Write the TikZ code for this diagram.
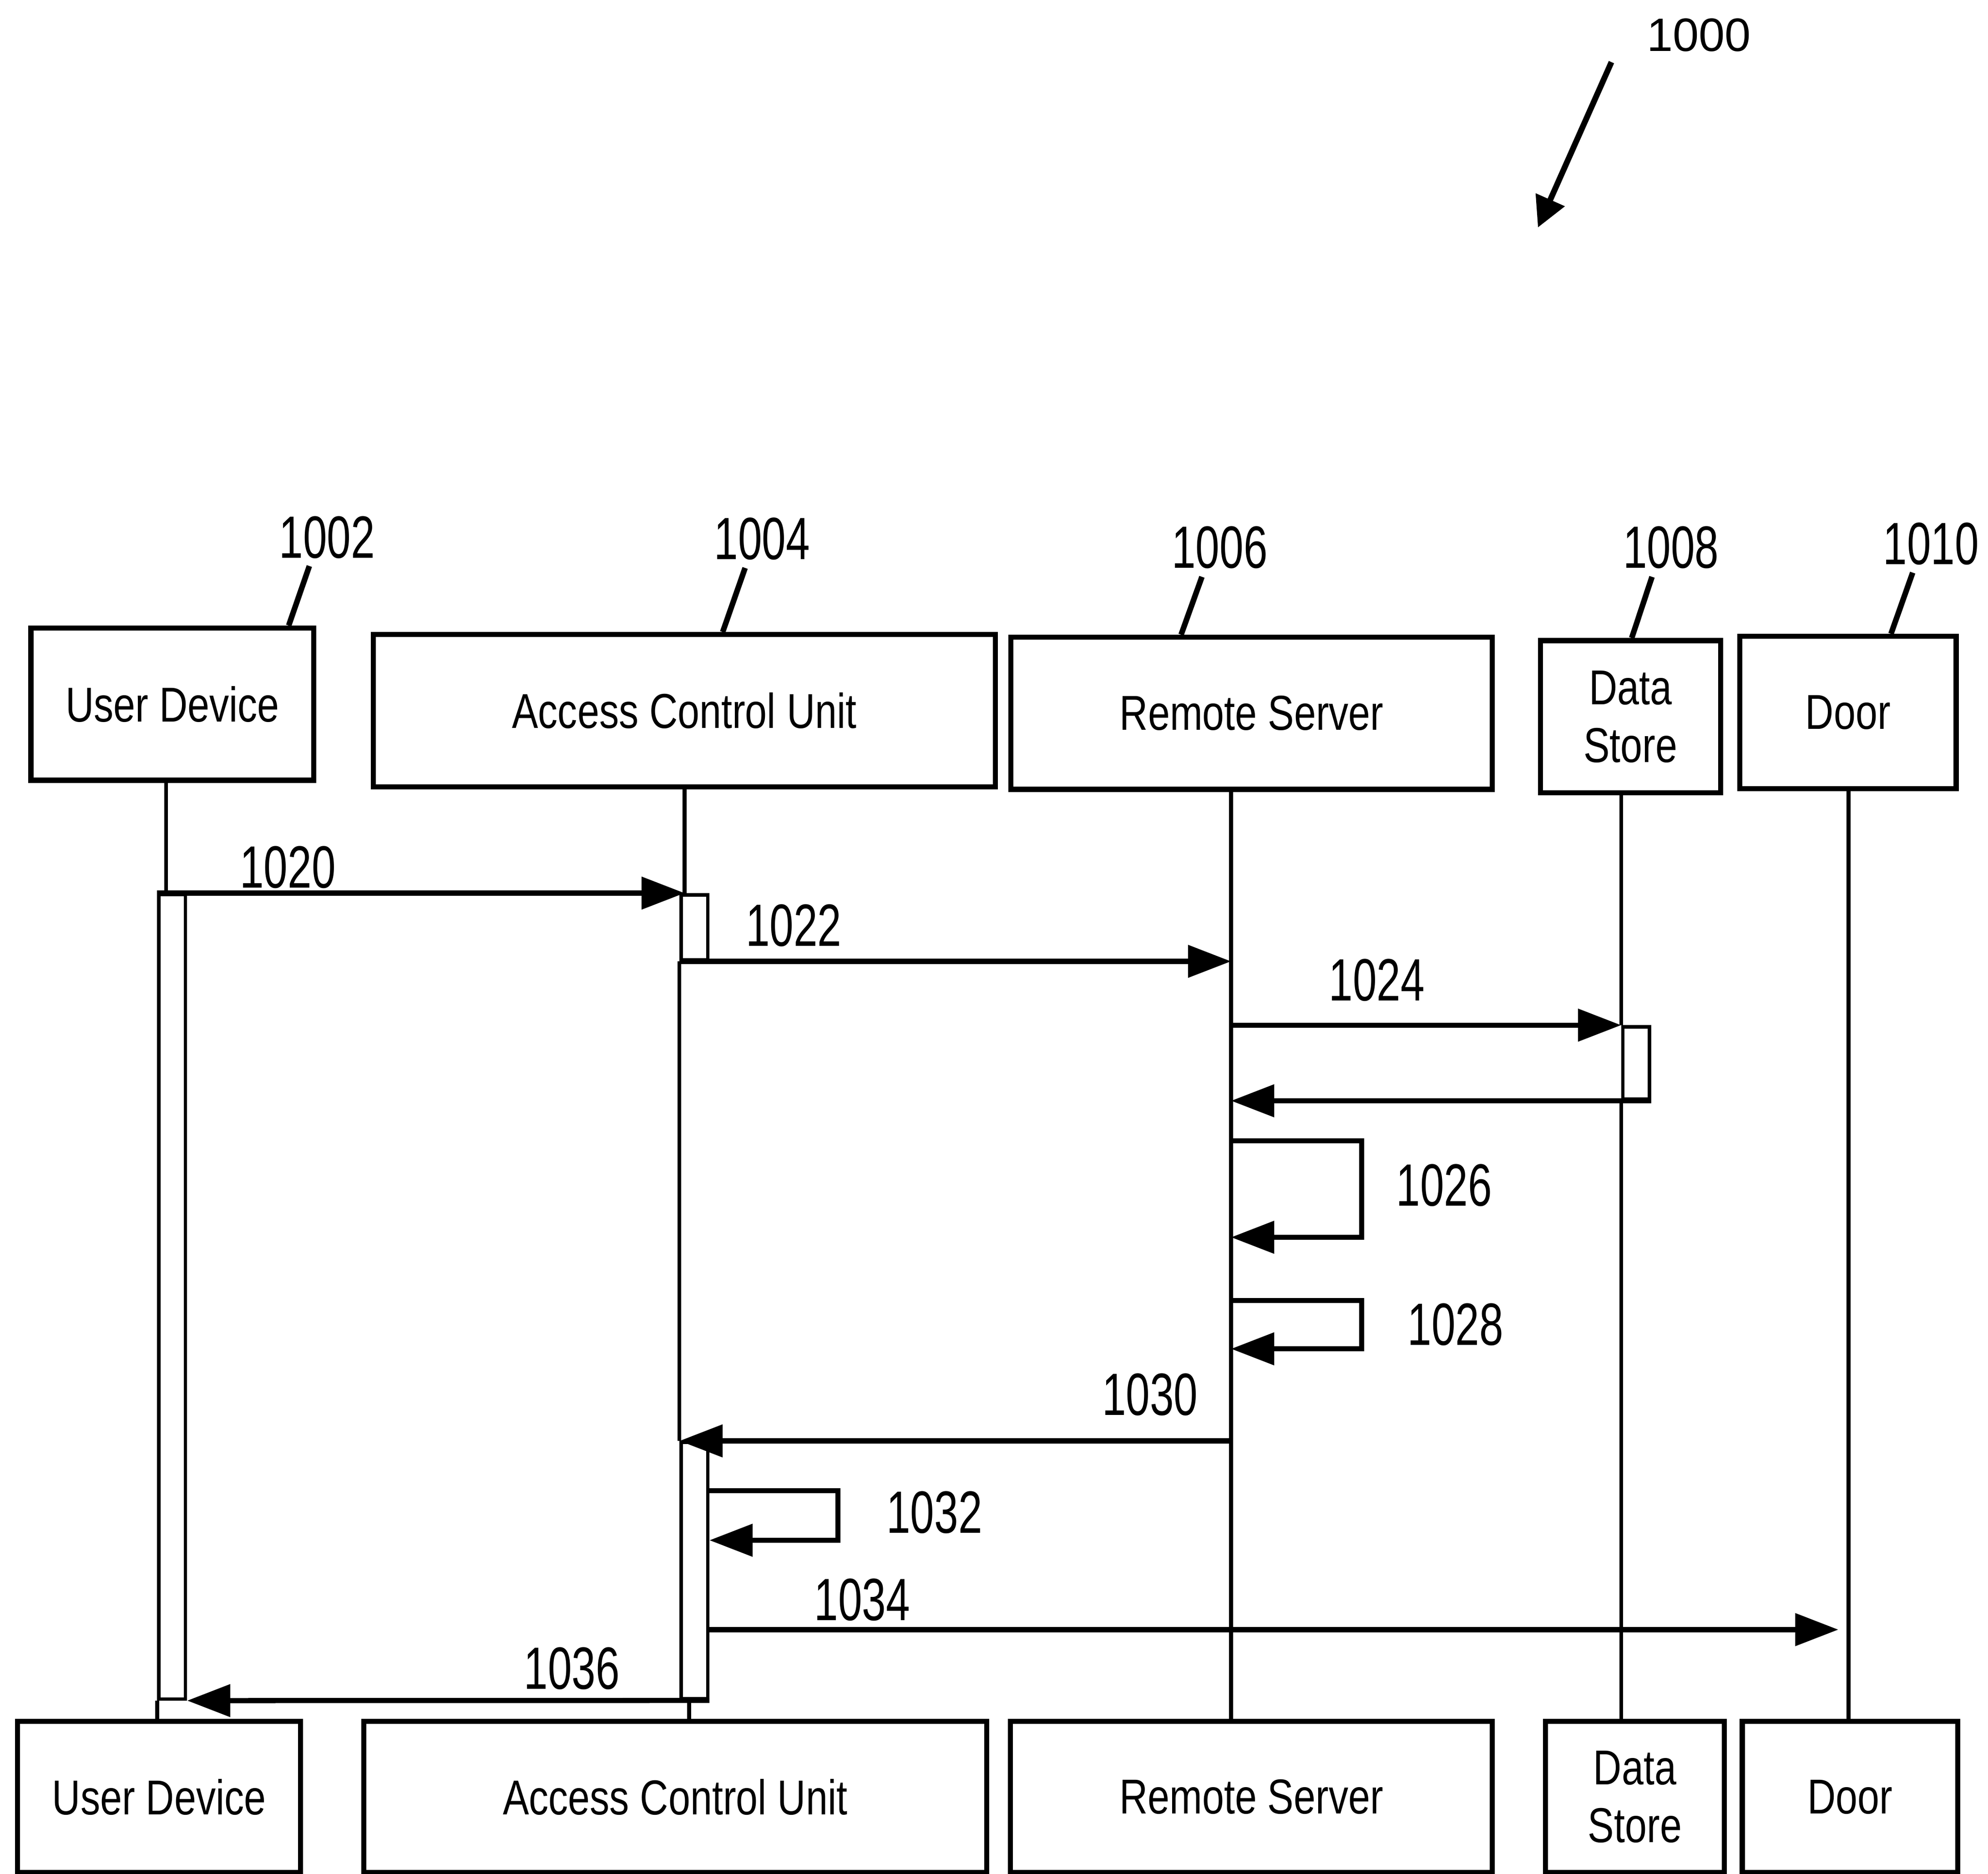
\documentclass[tikz,border=0pt]{standalone}
\usepackage{fontspec}
\setmainfont{Liberation Sans}[FakeStretch=0.8]
\newfontfamily\numfont{Liberation Sans}[FakeStretch=0.72]
\newfontfamily\figfont{Liberation Sans}
\usetikzlibrary{arrows.meta}

\begin{document}
\begin{tikzpicture}[x=0.01cm,y=-0.01cm,
  actor/.style={draw,line width=1.15pt,minimum width=#1,minimum height=1.2cm,
    inner sep=0pt,align=center,font=\fontsize{11}{13}\selectfont},
  actbar/.style={draw,line width=0.75pt,fill=white,minimum width=0.21cm,
    minimum height=#1,inner sep=0pt},
  life/.style={line width=0.85pt},
  msg/.style={line width=1.15pt,-{Triangle[length=0.34cm,width=0.25cm]}},
  lead/.style={line width=1.25pt},
  num/.style={inner sep=0pt,font=\numfont\fontsize{13.4}{15}\selectfont}]
\useasboundingbox (0,0) rectangle (1568,1478);

\node[inner sep=0pt,font=\figfont\fontsize{10.5}{12}\selectfont] (n1000) at (1340,27.5) {1000};
\coordinate (fig0) at (1271,49);
\coordinate (fig1) at (1213,179.5);
\draw[line width=1.3pt,-{Triangle[length=0.24cm,width=0.24cm]}] (fig0) -- (fig1);

\node[actor=2.23cm] (ud) at (136,555.5) {User Device};
\node[actor=4.905cm] (acu) at (539.75,560.6) {Access Control Unit};
\node[actor=3.795cm] (rs) at (987.25,562.65) {Remote Server};
\node[actor=1.42cm] (ds) at (1286,565.3) {Data\\Store};
\node[actor=1.705cm] (door) at (1457.6,562) {Door};

\node[actor=2.23cm,minimum height=1.19cm] (ud2) at (125.5,1417.5) {User Device};
\node[actor=4.91cm,minimum height=1.19cm] (acu2) at (532.5,1417.5) {Access Control Unit};
\node[actor=3.8cm,minimum height=1.19cm] (rs2) at (987,1417.5) {Remote Server};
\node[actor=1.41cm,minimum height=1.19cm] (ds2) at (1289.5,1417.5) {Data\\Store};
\node[actor=1.70cm,minimum height=1.19cm] (door2) at (1459.2,1417.5) {Door};

\node[num] (n1002) at (258,424) {1002};
\node[num] (n1004) at (601,425) {1004};
\node[num] (n1006) at (962,432) {1006};
\node[num] (n1008) at (1318,432) {1008};
\node[num] (n1010) at (1523,429) {1010};
\draw[lead] (244,446.5) -- (227.7,0 |- ud.north);
\draw[lead] (587.7,448) -- (570,0 |- acu.north);
\draw[lead] (948,455) -- (931.6,0 |- rs.north);
\draw[lead] (1303,455) -- (1287,0 |- ds.north);
\draw[lead] (1508.6,451.7) -- (1491.5,0 |- door.north);

\node[actbar=6.34cm] (udbar) at (135.8,1023) {};
\node[actbar=0.51cm] (acubar1) at (547.75,731.5) {};
\node[actbar=2.02cm] (acubar2) at (547.75,1239) {};
\node[actbar=0.57cm] (dsbar) at (1290.5,838.5) {};

\coordinate (udl) at (131,706);
\coordinate (acul) at (540,706);
\coordinate (acub) at (543.5,1340);
\coordinate (rsl) at (971,0);
\coordinate (doorl) at (1458,0);
\draw[life] (ud.south -| udl) -- (udl);
\draw[life] (udbar.south west) -- (ud2.north -| udbar.south west);
\draw[life] (acu.south -| acul) -- (acul);
\draw[life] (acubar1.south west) -- (acubar2.north west);
\draw[life] (acub) -- (acub |- acu2.north);
\draw[life] (rs.south -| rsl) -- (rs2.north -| rsl);
\draw[life] (ds.south -| dsbar.west) -- (dsbar.north west);
\draw[life] (dsbar.south west) -- (ds2.north -| dsbar.west);
\draw[life] (door.south -| doorl) -- (door2.north -| doorl);

\draw[msg] (udbar.north west) -- (acul |- udbar.north);
\node[num] (m1020) at (227,684) {1020};
\draw[msg] (acubar1.south west) -- (rsl |- acubar1.south);
\node[num] (m1022) at (626,730) {1022};
\draw[msg] (rsl |- dsbar.north) -- (dsbar.north west);
\node[num] (m1024) at (1086,773) {1024};
\draw[msg] (dsbar.south east) -- (rsl |- dsbar.south);
\draw[msg] (rsl |- 0,900) -| (1074,976) -- (rsl |- 0,976);
\node[num] (m1026) at (1139,935) {1026};
\draw[msg] (rsl |- 0,1026) -| (1074,1064) -- (rsl |- 0,1064);
\node[num] (m1028) at (1148,1045) {1028};
\draw[msg] (rsl |- acubar2.north) -- (acubar2.north west);
\node[num] (m1030) at (907,1100) {1030};
\draw[msg] (acubar2.east |- 0,1176) -| (661,1215) -- (acubar2.east |- 0,1215);
\node[num] (m1032) at (737,1193) {1032};
\draw[msg] (acubar2.east |- 0,1285.5) -- ([xshift=-0.08cm]doorl |- 0,1285.5);
\node[num] (m1034) at (680,1262) {1034};
\draw[msg] (acubar2.south east) -- (udbar.south east);
\node[num] (m1036) at (451,1316) {1036};
\end{tikzpicture}
\end{document}
